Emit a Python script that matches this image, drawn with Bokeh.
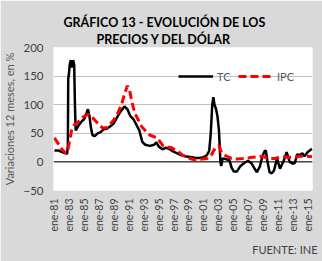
from bokeh.plotting import figure
from bokeh.models import (Range1d, FixedTicker, Span, Title, Legend, LegendItem)
from bokeh.embed import file_html
from bokeh.resources import INLINE
import math

# ---- data ----
tc_t = [1981.0, 1981.5, 1982.0, 1982.5, 1982.7, 1982.8, 1982.85, 1982.95, 1983.05,
        1983.2, 1983.35, 1983.5, 1983.65, 1983.75, 1983.85, 1984.0, 1984.3, 1984.6,
        1985.0, 1985.3, 1985.5, 1985.7, 1985.9, 1986.1, 1986.4, 1986.8, 1987.2,
        1987.6, 1988.0, 1988.5, 1989.0, 1989.5, 1990.0, 1990.4, 1990.8, 1991.2,
        1991.6, 1992.0, 1992.4, 1992.8, 1993.2, 1993.8, 1994.4, 1994.7, 1995.0,
        1995.5, 1996.0, 1996.5, 1997.0, 1997.5, 1998.0, 1998.5, 1999.0, 1999.5,
        2000.0, 2000.5, 2001.0, 2001.5, 2001.8, 2002.0, 2002.2, 2002.35, 2002.5,
        2002.7, 2002.9, 2003.1, 2003.3, 2003.4, 2003.6, 2004.0, 2004.5, 2004.8,
        2005.1, 2005.5, 2006.0, 2006.5, 2007.0, 2007.5, 2007.9, 2008.2, 2008.6,
        2008.9, 2009.2, 2009.4, 2009.6, 2009.9, 2010.2, 2010.5, 2010.9, 2011.3,
        2011.8, 2012.2, 2012.6, 2013.0, 2013.3, 2013.6, 2014.0, 2014.3, 2014.6,
        2015.0, 2015.3, 2015.6]
tc_v = [20, 20, 17, 15, 14, 30, 145, 155, 170,
        178, 165, 178, 170, 100, 55, 58, 65, 70,
        75, 85, 92, 80, 60, 47, 45, 50, 52,
        57, 58, 62, 68, 80, 90, 97, 92, 80,
        75, 65, 55, 35, 30, 28, 30, 34, 27,
        22, 25, 22, 18, 15, 12, 10, 9, 8,
        7, 7, 8, 12, 20, 50, 100, 113, 100,
        93, 80, 55, 0, -7, 6, 5, 3, -10,
        -17, -17, -7, -2, 2, -3, -12, -18, -8,
        8, 18, 20, 2, -18, -20, -15, 6, -12,
        2, 17, 0, -3, -2, 13, 12, 15, 10,
        17, 20, 23]

ipc_t = [1981.0, 1981.5, 1982.0, 1982.5, 1982.8, 1983.0, 1983.3, 1983.7, 1984.2,
         1984.8, 1985.3, 1985.6, 1986.0, 1986.5, 1987.0, 1987.5, 1988.0, 1988.5,
         1989.0, 1989.5, 1990.0, 1990.5, 1990.8, 1991.1, 1991.4, 1991.8, 1992.2,
         1992.7, 1993.2, 1993.8, 1994.4, 1994.8, 1995.2, 1995.6, 1996.0, 1996.7,
         1997.2, 1997.7, 1998.2, 1998.7, 1999.2, 1999.7, 2000.3, 2000.9, 2001.5,
         2002.0, 2002.4, 2002.8, 2003.1, 2003.4, 2003.8, 2004.3, 2004.8, 2005.5,
         2006.3, 2007.0, 2007.6, 2008.3, 2008.9, 2009.5, 2010.0, 2010.6, 2011.2,
         2011.7, 2012.3, 2012.9, 2013.5, 2014.0, 2014.6, 2015.0, 2015.6]
ipc_v = [42, 32, 22, 15, 20, 35, 55, 65, 70,
         78, 82, 83, 79, 72, 65, 59, 60, 66,
         74, 85, 100, 122, 133, 125, 105, 85, 75,
         62, 55, 47, 44, 42, 35, 28, 26, 25,
         21, 17, 12, 9, 6, 4, 4, 5, 6,
         10, 20, 27, 28, 18, 12, 9, 6, 5,
         6, 7, 8, 9, 10, 7, 6, 6, 8,
         9, 8, 8, 9, 10, 10, 10, 9]

tick_years = [1981 + 2 * i for i in range(18)]
tick_labels = ["ene-%02d" % (y % 100) for y in tick_years]
y_ticks = [-50, 0, 50, 100, 150, 200]

title_lines = ["GRÁFICO 13 - EVOLUCIÓN DE LOS", "PRECIOS Y DEL DÓLAR"]
y_title = "Variaciones 12 meses, en %"
source_text = "FUENTE: INE"

FONT = "Lato"
BG = "#d9d9d9"

p = figure(width=322, height=261, output_backend="svg", toolbar_location=None,
           x_range=Range1d(1980.87, 2015.67), y_range=Range1d(-50, 200),
           min_border_left=52, min_border_right=10, min_border_top=47,
           min_border_bottom=71)
p.background_fill_color = "white"
p.border_fill_color = BG
p.outline_line_color = None

# grid
p.xgrid.grid_line_color = None
p.ygrid.grid_line_color = "#bfbfbf"
p.ygrid.grid_line_width = 1
p.yaxis.ticker = FixedTicker(ticks=y_ticks)
p.xaxis.ticker = FixedTicker(ticks=tick_years)
p.xaxis.major_label_overrides = {y: l for y, l in zip(tick_years, tick_labels)}

for ax in (p.xaxis, p.yaxis):
    ax.axis_line_color = None
    ax.major_tick_line_color = None
    ax.minor_tick_line_color = None
    ax.major_tick_out = 0
    ax.major_tick_in = 0
    ax.minor_tick_out = 0
    ax.minor_tick_in = 0
    ax.major_label_text_font = FONT
    ax.major_label_text_color = "#404040"

p.xaxis.major_label_orientation = math.pi / 2
p.xaxis.major_label_text_font_size = "10.5px"
p.xaxis.major_label_standoff = 8
p.yaxis.major_label_text_font_size = "11.5px"
p.yaxis.major_label_standoff = 10
p.yaxis.axis_label = y_title
p.yaxis.axis_label_text_font = FONT
p.yaxis.axis_label_text_font_size = "11px"
p.yaxis.axis_label_text_font_style = "normal"
p.yaxis.axis_label_text_color = "#595959"
p.yaxis.axis_label_standoff = 4

# zero line
p.add_layout(Span(location=0, dimension="width", line_color="black", line_width=1))

r_tc = p.line(tc_t, tc_v, line_color="black", line_width=2.5)
r_ipc = p.line(ipc_t, ipc_v, line_color="#ff0000", line_width=3, line_dash="8 4")

legend = Legend(items=[LegendItem(label="TC", renderers=[r_tc]),
                       LegendItem(label="IPC", renderers=[r_ipc])],
                orientation="horizontal", location=(125, 104),
                background_fill_alpha=0, border_line_color=None,
                padding=0, margin=0, spacing=1, label_standoff=4,
                glyph_width=35, glyph_height=20, label_height=20, label_width=20,
                label_text_font=FONT, label_text_font_size="11px",
                label_text_color="#595959")
p.add_layout(legend, "center")

# title lines: first added sits nearest the frame
p.add_layout(Title(text=title_lines[1], align="left", offset=43, standoff=1,
                   text_font=FONT, text_font_style="bold", text_font_size="12.5px",
                   text_color="black"), "above")
p.add_layout(Title(text=title_lines[0], align="left", offset=10, standoff=0,
                   text_font=FONT, text_font_style="bold", text_font_size="12.5px",
                   text_color="black"), "above")
p.add_layout(Title(text=source_text, align="right", offset=-5, standoff=12,
                   text_font=FONT, text_font_style="normal", text_font_size="11px",
                   text_color="#404040"), "below")

open("out.html", "w").write(file_html(p, INLINE))
